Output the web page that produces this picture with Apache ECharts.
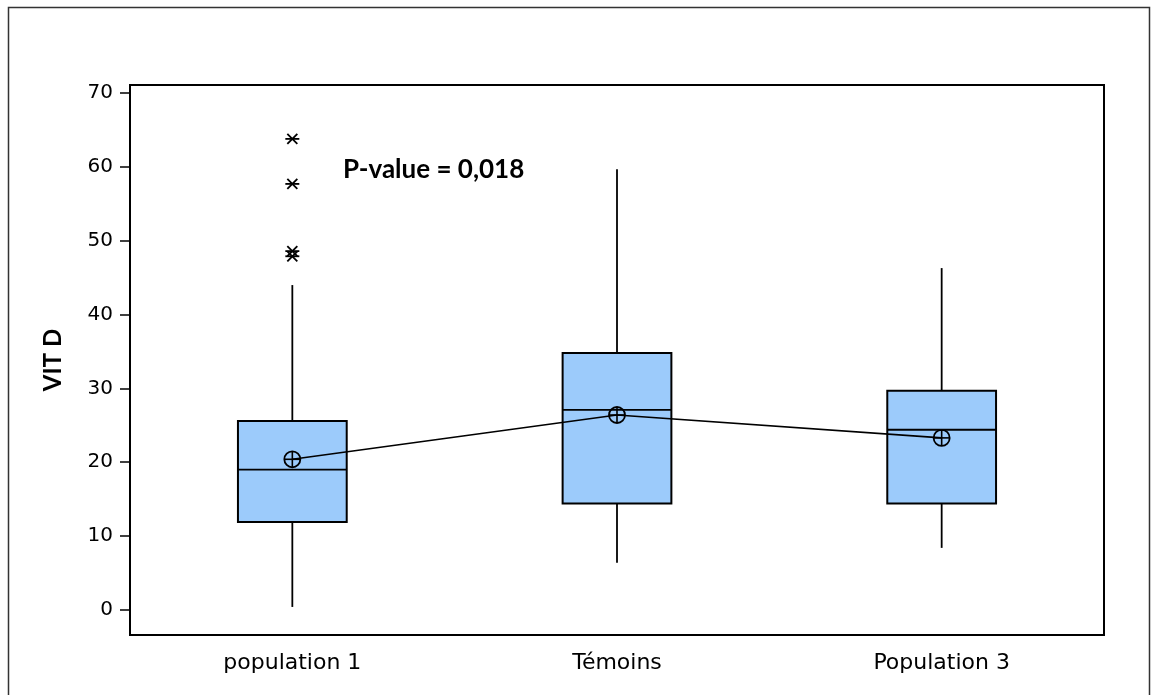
<!DOCTYPE html>
<html>
<head>
<meta charset="utf-8">
<script src="https://cdn.jsdelivr.net/npm/echarts@6/dist/echarts.min.js"></script>
<style>
  html, body { margin: 0; padding: 0; background: #fff; }
  #chart { width: 1152px; height: 695px; }
</style>
</head>
<body>
<div id="chart"></div>
<script>
// Vitamin D levels by group
const categories = ['population 1', 'Témoins', 'Population 3'];
// [lower whisker, Q1, median, Q3, upper whisker]
const boxStats = [
  [0.4, 11.9, 19.0, 25.6, 44.0],
  [6.4, 14.4, 27.1, 34.8, 59.7],
  [8.4, 14.4, 24.4, 29.7, 46.3]
];
const means = [20.4, 26.4, 23.3];
// outliers: [category index, value]
const outliers = [[0, 63.8], [0, 57.7], [0, 48.6], [0, 47.9]];
const yTicks = [0, 10, 20, 30, 40, 50, 60, 70];
const pValueText = 'P-value = 0,018';

const chart = echarts.init(document.getElementById('chart'));

const boxFill = '#9CCBFB';
const ink = '#000';

function renderBox(params, api) {
  const x = api.value(0);
  const lo = api.coord([x, api.value(1)]);
  const q1 = api.coord([x, api.value(2)]);
  const med = api.coord([x, api.value(3)]);
  const q3 = api.coord([x, api.value(4)]);
  const hi = api.coord([x, api.value(5)]);
  const band = api.size([1, 0])[0];
  const w = band * 0.335;
  const cx = lo[0];
  const left = cx - w / 2;
  return {
    type: 'group',
    children: [
      { type: 'line', shape: { x1: cx, y1: hi[1], x2: cx, y2: q3[1] }, style: { stroke: ink, lineWidth: 1.8 } },
      { type: 'line', shape: { x1: cx, y1: q1[1], x2: cx, y2: lo[1] }, style: { stroke: ink, lineWidth: 1.8 } },
      { type: 'rect', shape: { x: left, y: q3[1], width: w, height: q1[1] - q3[1] }, style: { fill: boxFill, stroke: ink, lineWidth: 2 } },
      { type: 'line', shape: { x1: left, y1: med[1], x2: left + w, y2: med[1] }, style: { stroke: ink, lineWidth: 1.8 } }
    ]
  };
}

function renderMean(params, api) {
  const p = api.coord([api.value(0), api.value(1)]);
  const r = 8;
  const st = { stroke: ink, lineWidth: 1.6 };
  return {
    type: 'group',
    children: [
      { type: 'circle', shape: { cx: p[0], cy: p[1], r: r }, style: { fill: 'none', stroke: ink, lineWidth: 1.8 } },
      { type: 'line', shape: { x1: p[0] - r, y1: p[1], x2: p[0] + r, y2: p[1] }, style: st },
      { type: 'line', shape: { x1: p[0], y1: p[1] - r, x2: p[0], y2: p[1] + r }, style: st }
    ]
  };
}

function renderStar(params, api) {
  const p = api.coord([api.value(0), api.value(1)]);
  const a = 7, b = 5;
  const st = { stroke: ink, lineWidth: 1.8 };
  return {
    type: 'group',
    children: [
      { type: 'line', shape: { x1: p[0] - a, y1: p[1], x2: p[0] + a, y2: p[1] }, style: st },
      { type: 'line', shape: { x1: p[0] - b, y1: p[1] - b, x2: p[0] + b, y2: p[1] + b }, style: st },
      { type: 'line', shape: { x1: p[0] - b, y1: p[1] + b, x2: p[0] + b, y2: p[1] - b }, style: st }
    ]
  };
}

const frame = { type: 'rect', shape: { x: 8.5, y: 7.5, width: 1141, height: 720 }, style: { fill: 'none', stroke: '#333', lineWidth: 1.5 }, silent: true };

chart.setOption({
  animation: false,
  backgroundColor: '#fff',
  graphic: [frame],
  grid: { left: 130, right: 48, top: 85, bottom: 60, show: true, borderColor: ink, borderWidth: 2, backgroundColor: 'transparent' },
  xAxis: {
    type: 'category',
    data: categories,
    boundaryGap: true,
    axisLine: { onZero: false, lineStyle: { color: ink, width: 2 } },
    axisTick: { alignWithLabel: true, length: 8, lineStyle: { color: ink, width: 1.5 } },
    axisLabel: { margin: 17, fontFamily: 'DejaVu Sans', fontSize: 22, color: '#000' },
    splitLine: { show: false }
  },
  yAxis: {
    type: 'value',
    min: -3.4,
    max: 71.1,
    name: 'VIT D',
    nameLocation: 'middle',
    nameGap: 65,
    nameTextStyle: { fontFamily: 'Lato', fontWeight: 'bold', fontSize: 24, color: '#000' },
    axisLine: { show: true, lineStyle: { color: ink, width: 2 } },
    axisTick: { show: true, length: 10, lineStyle: { color: ink, width: 1.5 }, customValues: yTicks },
    axisLabel: { margin: 17, customValues: yTicks, fontFamily: 'DejaVu Sans', fontSize: 20, color: '#000' },
    splitLine: { show: false }
  },
  series: [
    {
      type: 'custom',
      renderItem: renderBox,
      data: boxStats.map((s, i) => [i].concat(s)),
      encode: { x: 0, y: [1, 2, 3, 4, 5] },
      z: 2
    },
    {
      type: 'line',
      data: means.map((m, i) => [i, m]),
      symbol: 'none',
      lineStyle: { color: ink, width: 1.6 },
      z: 3
    },
    {
      type: 'custom',
      renderItem: renderMean,
      data: means.map((m, i) => [i, m]),
      encode: { x: 0, y: 1 },
      z: 4
    },
    {
      type: 'custom',
      renderItem: renderStar,
      data: outliers,
      encode: { x: 0, y: 1 },
      z: 4
    }
  ]
});

// p-value annotation, placed level with the 60 gridline value
const anchor = chart.convertToPixel({ xAxisIndex: 0, yAxisIndex: 0 }, [0, 60]);
chart.setOption({
  graphic: [
    frame,
    { type: 'text', x: 343, y: anchor[1] + 3, style: { text: pValueText, fontFamily: 'Lato', fontWeight: 'bold', fontSize: 26, fill: '#000', verticalAlign: 'middle' } }
  ]
});
</script>
</body>
</html>
